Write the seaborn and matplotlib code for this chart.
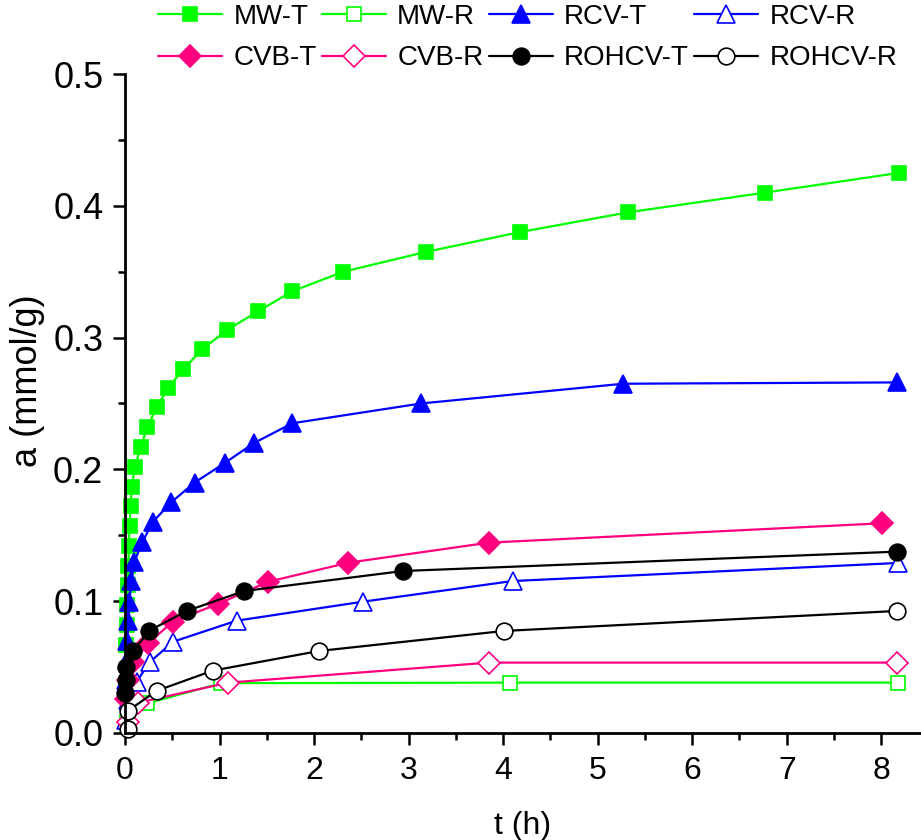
import matplotlib
matplotlib.use("Agg")
import matplotlib.pyplot as plt
from matplotlib.ticker import MultipleLocator, FormatStrFormatter
import seaborn as sns

sns.set_theme(style="white")
plt.rcParams["font.family"] = ["Liberation Sans", "DejaVu Sans"]
plt.rcParams["text.color"] = "black"
plt.rcParams["axes.labelcolor"] = "black"
plt.rcParams["xtick.color"] = "black"
plt.rcParams["ytick.color"] = "black"

# adsorption kinetics: time t (h) vs uptake a (mmol/g)
mw_t_time = [0.015, 0.020, 0.025, 0.030, 0.036, 0.041, 0.048, 0.060, 0.071, 0.106, 0.166,
             0.236, 0.335, 0.458, 0.617, 0.815, 1.083, 1.411, 1.764, 2.310, 3.183, 4.174,
             5.320, 6.770, 8.190]
mw_t_a = [0.067, 0.082, 0.097, 0.112, 0.127, 0.142, 0.157, 0.172, 0.187, 0.202, 0.217,
          0.232, 0.247, 0.262, 0.276, 0.291, 0.306, 0.320, 0.335, 0.350, 0.365, 0.380,
          0.395, 0.410, 0.425]

mw_r_time = [0.020, 0.233, 1.020, 4.070, 8.180]
mw_r_a = [0.008, 0.0225, 0.0378, 0.0382, 0.0382]

rcv_t_time = [0.010, 0.018, 0.026, 0.036, 0.046, 0.067, 0.100, 0.183, 0.293, 0.488, 0.737,
              1.058, 1.365, 1.770, 3.130, 5.270, 8.170]
rcv_t_a = [0.040, 0.055, 0.070, 0.085, 0.0996, 0.115, 0.130, 0.1447, 0.160, 0.175, 0.190,
           0.205, 0.220, 0.235, 0.250, 0.265, 0.266]

rcv_r_time = [0.010, 0.035, 0.123, 0.265, 0.511, 1.180, 2.514, 4.100, 8.180]
rcv_r_a = [0.010, 0.025, 0.039, 0.054, 0.0693, 0.0852, 0.0996, 0.1153, 0.1290]

cvb_t_time = [0.012, 0.030, 0.088, 0.247, 0.505, 0.988, 1.517, 2.363, 3.846, 8.004]
cvb_t_a = [0.026, 0.040, 0.054, 0.068, 0.0845, 0.098, 0.1148, 0.1292, 0.1444, 0.1591]

cvb_r_time = [0.035, 0.141, 1.093, 3.850, 8.170]
cvb_r_a = [0.008, 0.023, 0.0382, 0.0534, 0.0534]

rohcv_t_time = [0.004, 0.010, 0.016, 0.088, 0.257, 0.653, 1.260, 2.940, 8.170]
rohcv_t_a = [0.030, 0.040, 0.0503, 0.0624, 0.0776, 0.0926, 0.1077, 0.1229, 0.1376]

rohcv_r_time = [0.030, 0.035, 0.335, 0.928, 2.050, 4.006, 8.167]
rohcv_r_a = [0.003, 0.017, 0.032, 0.0473, 0.0622, 0.0774, 0.0926]

GREEN = "#00FF00"
BLUE = "#0000FF"
PINK = "#FF0080"
BLACK = "#000000"

series = [
    ("MW-T", mw_t_time, mw_t_a, GREEN, "s", True, 10),
    ("MW-R", mw_r_time, mw_r_a, GREEN, "s", False, 10),
    ("RCV-T", rcv_t_time, rcv_t_a, BLUE, "^", True, 13),
    ("RCV-R", rcv_r_time, rcv_r_a, BLUE, "^", False, 13),
    ("CVB-T", cvb_t_time, cvb_t_a, PINK, "D", True, 11),
    ("CVB-R", cvb_r_time, cvb_r_a, PINK, "D", False, 11),
    ("ROHCV-T", rohcv_t_time, rohcv_t_a, BLACK, "o", True, 12),
    ("ROHCV-R", rohcv_r_time, rohcv_r_a, BLACK, "o", False, 12),
]

fig = plt.figure(figsize=(9.21, 8.40), dpi=100)
ax = fig.add_axes([0.1357, 0.1274, 0.8643, 0.7845])

handles = {}
for name, tt, aa, col, mk, filled, ms in series:
    sns.lineplot(x=tt, y=aa, ax=ax, sort=False, estimator=None, color=col,
                 linewidth=1.6, marker=mk, markersize=ms,
                 markerfacecolor=col if filled else "white",
                 markeredgecolor=col, markeredgewidth=1.2,
                 label=name, clip_on=False, legend=False)
    handles[name] = ax.lines[-1]

ax.set_xlim(0, 8.42)
ax.set_ylim(0, 0.5)
ax.xaxis.set_major_locator(MultipleLocator(1))
ax.xaxis.set_minor_locator(MultipleLocator(0.5))
ax.yaxis.set_major_locator(MultipleLocator(0.1))
ax.yaxis.set_minor_locator(MultipleLocator(0.05))
ax.yaxis.set_major_formatter(FormatStrFormatter("%.1f"))

for side in ["top", "right"]:
    ax.spines[side].set_visible(False)
for side in ["left", "bottom"]:
    ax.spines[side].set_linewidth(2.0)
    ax.spines[side].set_color("black")

ax.tick_params(which="major", direction="out", length=8.6, width=1.8, color="black",
               bottom=True, left=True)
ax.tick_params(which="minor", direction="out", length=5, width=1.8, color="black",
               bottom=True, left=True)
ax.tick_params(axis="y", which="major", labelsize=26, pad=7)
ax.tick_params(axis="x", which="major", labelsize=23, pad=8)

ax.set_xlabel("t (h)", fontsize=23)
ax.xaxis.set_label_coords(0.5, -0.118)
ax.set_ylabel("a (mmol/g)", fontsize=26)
ax.yaxis.set_label_coords(-0.100, 0.535)

order = ["MW-T", "CVB-T", "MW-R", "CVB-R", "RCV-T", "ROHCV-T", "RCV-R", "ROHCV-R"]
fig.legend([handles[n] for n in order], order, ncol=4, loc="upper left",
           bbox_to_anchor=(0.172, 0.995), frameon=False,
           prop={"size": 20},
           handlelength=2.3, handletextpad=0.4, columnspacing=0.2,
           labelspacing=0.55, borderaxespad=0.0, borderpad=0.0)

fig.savefig("out.png", dpi=100)
